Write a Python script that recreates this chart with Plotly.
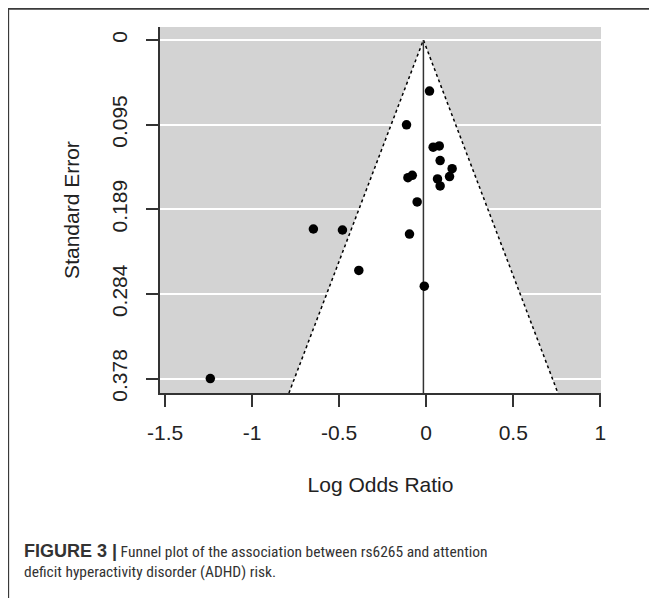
import plotly.graph_objects as go

# ---- data ----
log_or = [0.019, -0.113, 0.040, 0.075, 0.080, 0.149, 0.134, 0.065, 0.080,
          -0.105, -0.080, -0.052, -0.648, -0.481, -0.096, -0.387, -0.011, -1.240]
std_err = [0.0570, 0.0947, 0.1197, 0.1182, 0.1346, 0.1436, 0.1525, 0.1551, 0.1629,
           0.1537, 0.1510, 0.1808, 0.2110, 0.2121, 0.2166, 0.2572, 0.2748, 0.378]
pooled_estimate = -0.016
z_crit = 1.96

x_tick_vals = [-1.5, -1, -0.5, 0, 0.5, 1]
x_tick_text = ["-1.5", "-1", "-0.5", "0", "0.5", "1"]
y_tick_vals = [0, 0.0945, 0.189, 0.2835, 0.378]
y_tick_text = ["0", "0.095", "0.189", "0.284", "0.378"]

x_label = "Log Odds Ratio"
y_label = "Standard Error"
caption_bold = "FIGURE 3 |"
caption_lines = ["Funnel plot of the association between rs6265 and attention",
                 "deficit hyperactivity disorder (ADHD) risk."]

# ---- layout constants (page body adds an 8px offset) ----
OFF = 8
W, H = 657, 598
L = 160 - OFF
T = 27.3 - OFF
R = W - (600.7 - OFF)
B = H - (392.7 - OFF)
x_range = [-1.529, 1.004]
y_range = [0.3941, -0.01454]
se_lim = y_range[0]

GRAY = "#d3d3d3"
AX = "#333333"
FONT = "Liberation Sans"
CAP_FONT = "Liberation Sans Narrow, Roboto Condensed, Roboto, Liberation Sans"

pw = W - L - R
ph = H - T - B


def px_x(p):
    return (p - OFF - L) / pw


def px_y(p):
    return (H - B - (p - OFF)) / ph


fig = go.Figure()

# funnel (white region)
fx = [pooled_estimate - z_crit * se_lim, pooled_estimate, pooled_estimate + z_crit * se_lim]
fy = [se_lim, 0, se_lim]
fig.add_trace(go.Scatter(x=fx + [fx[0]], y=fy + [fy[0]], mode="lines", fill="toself",
                         fillcolor="white", line=dict(width=0), hoverinfo="skip",
                         showlegend=False))
fig.add_trace(go.Scatter(x=fx, y=fy, mode="lines",
                         line=dict(color="black", width=1.5, dash="dot"),
                         hoverinfo="skip", showlegend=False))
# vertical line at pooled estimate
fig.add_trace(go.Scatter(x=[pooled_estimate, pooled_estimate], y=[0, se_lim], mode="lines",
                         line=dict(color=AX, width=1.5), hoverinfo="skip", showlegend=False))
# studies
fig.add_trace(go.Scatter(x=log_or, y=std_err, mode="markers",
                         marker=dict(color="black", size=9.5), showlegend=False))

axis_font = dict(family=FONT, size=21, color="#222222")

fig.update_xaxes(range=x_range, tickvals=x_tick_vals, ticktext=x_tick_text,
                 showgrid=False, zeroline=False, showline=True, linecolor=AX, linewidth=1.5,
                 ticks="outside", ticklen=12, tickwidth=1.5, tickcolor=AX,
                 tickfont=axis_font, ticklabelstandoff=8,
                 title=dict(text=x_label, font=axis_font, standoff=34))
fig.update_yaxes(range=y_range, tickvals=y_tick_vals, ticktext=y_tick_text, tickangle=-90,
                 showgrid=True, gridcolor="white", gridwidth=1.5, zeroline=False,
                 showline=True, linecolor=AX, linewidth=1.5,
                 ticks="outside", ticklen=12.7, tickwidth=1.5, tickcolor=AX,
                 tickfont=axis_font, ticklabelstandoff=10,
                 title=dict(text=y_label, font=axis_font, standoff=23))

caption = ("<span style=\"font-family:Liberation Sans;font-size:18px\"><b>" + caption_bold
           + "</b></span> " + "<br>".join(caption_lines))

fig.update_layout(
    width=W, height=H,
    margin=dict(l=L, r=R, t=T, b=B, autoexpand=False),
    paper_bgcolor="white", plot_bgcolor=GRAY,
    shapes=[
        dict(type="line", xref="paper", yref="paper", x0=px_x(8), x1=px_x(W + 20),
             y0=px_y(9), y1=px_y(9), line=dict(color="#3a3a3a", width=2)),
        dict(type="line", xref="paper", yref="paper", x0=px_x(8.5), x1=px_x(8.5),
             y0=px_y(9), y1=px_y(H + 20), line=dict(color="#3a3a3a", width=1.5)),
    ],
    annotations=[
        dict(text=caption, xref="paper", yref="paper", x=px_x(22), y=px_y(560),
             xanchor="left", yanchor="middle", align="left", showarrow=False,
             font=dict(family=CAP_FONT, size=15.5, color="#333333")),
    ],
)

fig.write_html("out.html")
